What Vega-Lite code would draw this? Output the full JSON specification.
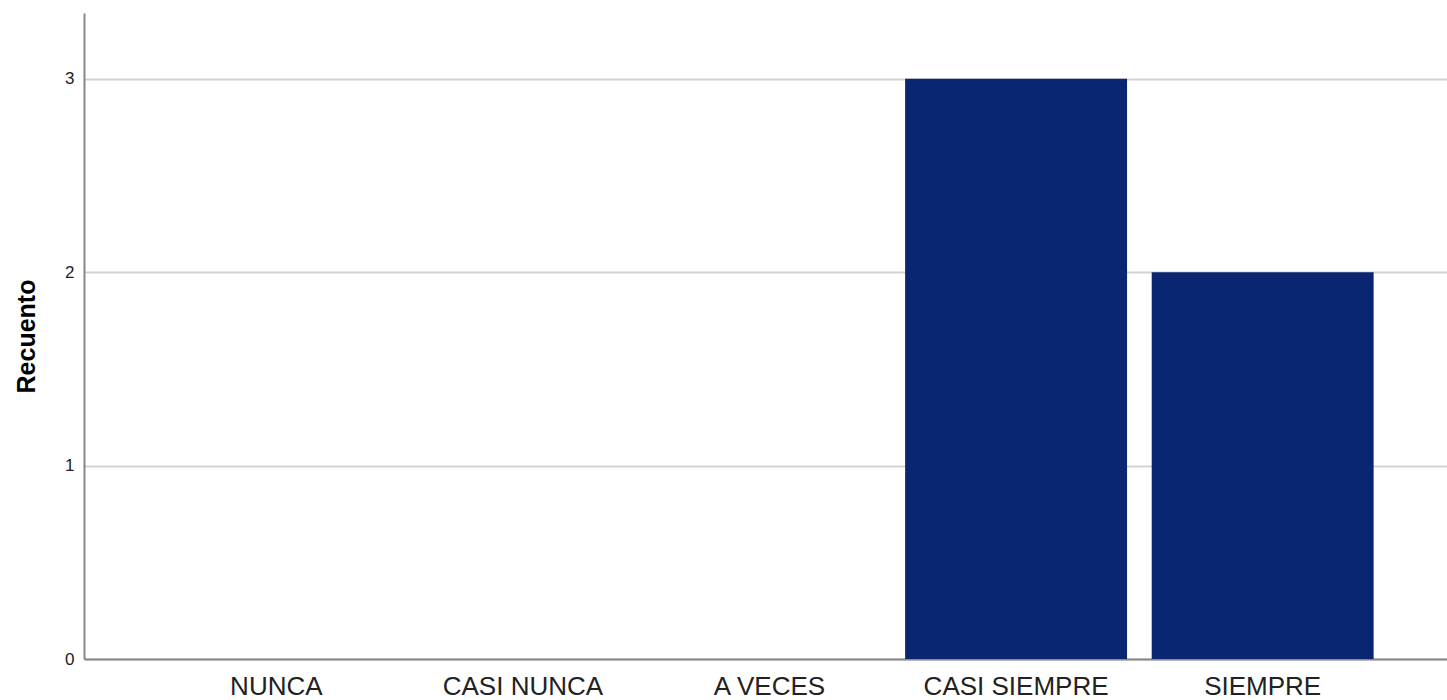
{
  "$schema": "https://vega.github.io/schema/vega-lite/v6.json",
  "width": 1371,
  "height": 646,
  "autosize": "none",
  "padding": {"left": 84, "top": 13, "right": 0, "bottom": 41},
  "background": "white",
  "data": {
    "values": [
      {"categoria": "NUNCA", "recuento": 0},
      {"categoria": "CASI NUNCA", "recuento": 0},
      {"categoria": "A VECES", "recuento": 0},
      {"categoria": "CASI SIEMPRE", "recuento": 3},
      {"categoria": "SIEMPRE", "recuento": 2}
    ]
  },
  "mark": {"type": "bar", "color": "#0B2670"},
  "encoding": {
    "x": {
      "field": "categoria",
      "type": "nominal",
      "sort": ["NUNCA", "CASI NUNCA", "A VECES", "CASI SIEMPRE", "SIEMPRE"],
      "scale": {"paddingInner": 0.1, "paddingOuter": 0.33},
      "axis": {
        "title": null,
        "labelAngle": 0,
        "labelLimit": 0,
        "ticks": false,
        "domainColor": "#888888",
        "domainWidth": 2,
        "labelFont": "Liberation Sans",
        "labelFontSize": 26,
        "labelColor": "#222222",
        "labelPadding": 14
      }
    },
    "y": {
      "field": "recuento",
      "type": "quantitative",
      "scale": {"domain": [0, 3.34], "nice": false, "zero": true},
      "axis": {
        "values": [0, 1, 2, 3],
        "title": "Recuento",
        "titleFont": "Liberation Sans",
        "titleFontSize": 25,
        "titleFontWeight": "bold",
        "titleColor": "#000000",
        "titleAngle": -90,
        "titleX": -58,
        "titleY": 323,
        "titleBaseline": "middle",
        "titleAlign": "center",
        "ticks": false,
        "domainColor": "#888888",
        "domainWidth": 2,
        "grid": true,
        "gridColor": "#d3d3d3",
        "gridWidth": 2,
        "labelFont": "Liberation Sans",
        "labelFontSize": 17,
        "labelColor": "#222222",
        "labelPadding": 10
      }
    }
  },
  "config": {"view": {"stroke": null}}
}
